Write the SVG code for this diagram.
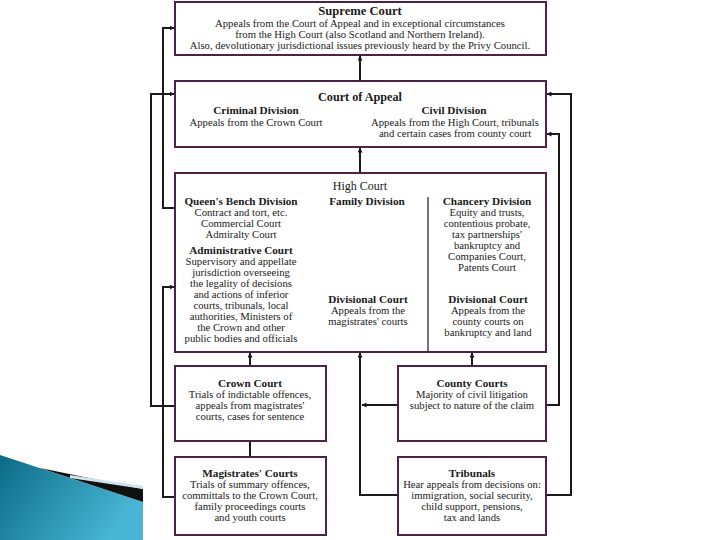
<svg xmlns="http://www.w3.org/2000/svg" width="720" height="540" viewBox="0 0 720 540">
<defs>
<marker id="arr" viewBox="0 0 10 10" refX="9" refY="5" markerWidth="5" markerHeight="5" markerUnits="userSpaceOnUse" orient="auto">
<path d="M0,0 L10,5 L0,10 z" fill="#1a1a1a"/>
</marker>
<linearGradient id="teal" x1="0" y1="0" x2="1" y2="0.4">
<stop offset="0" stop-color="#0b6a86"/>
<stop offset="1" stop-color="#48b6d4"/>
</linearGradient>
<style>
.box{fill:#ffffff;stroke:#4b2346;stroke-width:2}
.t{font-family:"Liberation Serif","Times New Roman",serif;font-size:10.7px;fill:#1a1a1a;text-anchor:middle}
.h{font-family:"Liberation Serif","Times New Roman",serif;font-size:11.2px;font-weight:bold;fill:#1a1a1a;text-anchor:middle}
.c{fill:none;stroke:#1a1a1a;stroke-width:2}
</style>
</defs>
<rect width="720" height="540" fill="#ffffff"/>
<g id="decoration">
<polygon points="0,455 143,502 143,540 0,540" fill="url(#teal)"/>
<polygon points="40,468 143,489 143,502" fill="#111111"/>
<polygon points="70,475 143,486 143,489 70,478" fill="#cfe3ea"/>
</g>
<g id="connectors">
<line class="c" x1="360" y1="81" x2="360" y2="56" marker-end="url(#arr)"/>
<line class="c" x1="360" y1="173" x2="360" y2="148" marker-end="url(#arr)"/>
<line class="c" x1="250" y1="366" x2="250" y2="353" marker-end="url(#arr)"/>
<line class="c" x1="472" y1="366" x2="472" y2="353" marker-end="url(#arr)"/>
<polyline class="c" points="398,495 360,495 360,353" marker-end="url(#arr)"/>
<line class="c" x1="398" y1="405" x2="362" y2="405" marker-end="url(#arr)"/>
<line class="c" x1="250" y1="457" x2="250" y2="442"/>
<polyline class="c" points="175,406 151,406 151,94 174,94" marker-end="url(#arr)"/>
<polyline class="c" points="175,208 163,208 163,28 174,28" marker-end="url(#arr)"/>
<polyline class="c" points="175,497 163,497 163,287 174,287" marker-end="url(#arr)"/>
<polyline class="c" points="546,405 559,405 559,134 547,134" marker-end="url(#arr)"/>
<polyline class="c" points="546,495 571,495 571,94 547,94" marker-end="url(#arr)"/>
</g>
<g id="supreme-court">
<rect class="box" x="175" y="2" width="371" height="53"/>
<text class="h" x="360" y="15" style="font-size:12.6px">Supreme Court</text>
<text class="t" x="360" y="27">Appeals from the Court of Appeal and in exceptional circumstances</text>
<text class="t" x="360" y="38">from the High Court (also Scotland and Northern Ireland).</text>
<text class="t" x="360" y="49">Also, devolutionary jurisdictional issues previously heard by the Privy Council.</text>
</g>
<g id="court-of-appeal">
<rect class="box" x="175" y="81" width="371" height="66"/>
<text class="h" x="360" y="101" style="font-size:12.2px">Court of Appeal</text>
<text class="h" x="256" y="114">Criminal Division</text>
<text class="t" x="256" y="126">Appeals from the Crown Court</text>
<text class="h" x="454" y="114">Civil Division</text>
<text class="t" x="455" y="126">Appeals from the High Court, tribunals</text>
<text class="t" x="455" y="137">and certain cases from county court</text>
</g>
<g id="high-court">
<rect class="box" x="175" y="173" width="371" height="179"/>
<line x1="428" y1="197" x2="428" y2="352" stroke="#1a1a1a" stroke-width="1.2"/>
<text class="t" x="360" y="190" style="font-size:12px">High Court</text>
<text class="h" x="241" y="205">Queen's Bench Division</text>
<text class="t" x="241" y="216">Contract and tort, etc.</text>
<text class="t" x="241" y="227">Commercial Court</text>
<text class="t" x="241" y="238">Admiralty Court</text>
<text class="h" x="241" y="254">Administrative Court</text>
<text class="t" x="241" y="265">Supervisory and appellate</text>
<text class="t" x="241" y="276">jurisdiction overseeing</text>
<text class="t" x="241" y="287">the legality of decisions</text>
<text class="t" x="241" y="298">and actions of inferior</text>
<text class="t" x="241" y="309">courts, tribunals, local</text>
<text class="t" x="241" y="320">authorities, Ministers of</text>
<text class="t" x="241" y="331">the Crown and other</text>
<text class="t" x="241" y="342">public bodies and officials</text>
<text class="h" x="367" y="205">Family Division</text>
<text class="h" x="368" y="303">Divisional Court</text>
<text class="t" x="368" y="314">Appeals from the</text>
<text class="t" x="368" y="325">magistrates' courts</text>
<text class="h" x="487" y="205">Chancery Division</text>
<text class="t" x="487" y="216">Equity and trusts,</text>
<text class="t" x="487" y="227">contentious probate,</text>
<text class="t" x="487" y="238">tax partnerships'</text>
<text class="t" x="487" y="249">bankruptcy and</text>
<text class="t" x="487" y="260">Companies Court,</text>
<text class="t" x="487" y="271">Patents Court</text>
<text class="h" x="488" y="303">Divisional Court</text>
<text class="t" x="488" y="314">Appeals from the</text>
<text class="t" x="488" y="325">county courts on</text>
<text class="t" x="488" y="336">bankruptcy and land</text>
</g>
<g id="crown-court">
<rect class="box" x="175" y="366" width="151" height="75"/>
<text class="h" x="250" y="387">Crown Court</text>
<text class="t" x="250" y="398">Trials of indictable offences,</text>
<text class="t" x="250" y="409">appeals from magistrates'</text>
<text class="t" x="250" y="420">courts, cases for sentence</text>
</g>
<g id="county-courts">
<rect class="box" x="398" y="366" width="148" height="75"/>
<text class="h" x="472" y="387">County Courts</text>
<text class="t" x="472" y="398">Majority of civil litigation</text>
<text class="t" x="472" y="409">subject to nature of the claim</text>
</g>
<g id="magistrates-courts">
<rect class="box" x="175" y="457" width="151" height="78"/>
<text class="h" x="250" y="477">Magistrates' Courts</text>
<text class="t" x="250" y="488">Trials of summary offences,</text>
<text class="t" x="250" y="499">committals to the Crown Court,</text>
<text class="t" x="250" y="510">family proceedings courts</text>
<text class="t" x="250" y="521">and youth courts</text>
</g>
<g id="tribunals">
<rect class="box" x="398" y="457" width="148" height="78"/>
<text class="h" x="472" y="477">Tribunals</text>
<text class="t" x="472" y="488">Hear appeals from decisions on:</text>
<text class="t" x="472" y="499">immigration, social security,</text>
<text class="t" x="472" y="510">child support, pensions,</text>
<text class="t" x="472" y="521">tax and lands</text>
</g>
</svg>
